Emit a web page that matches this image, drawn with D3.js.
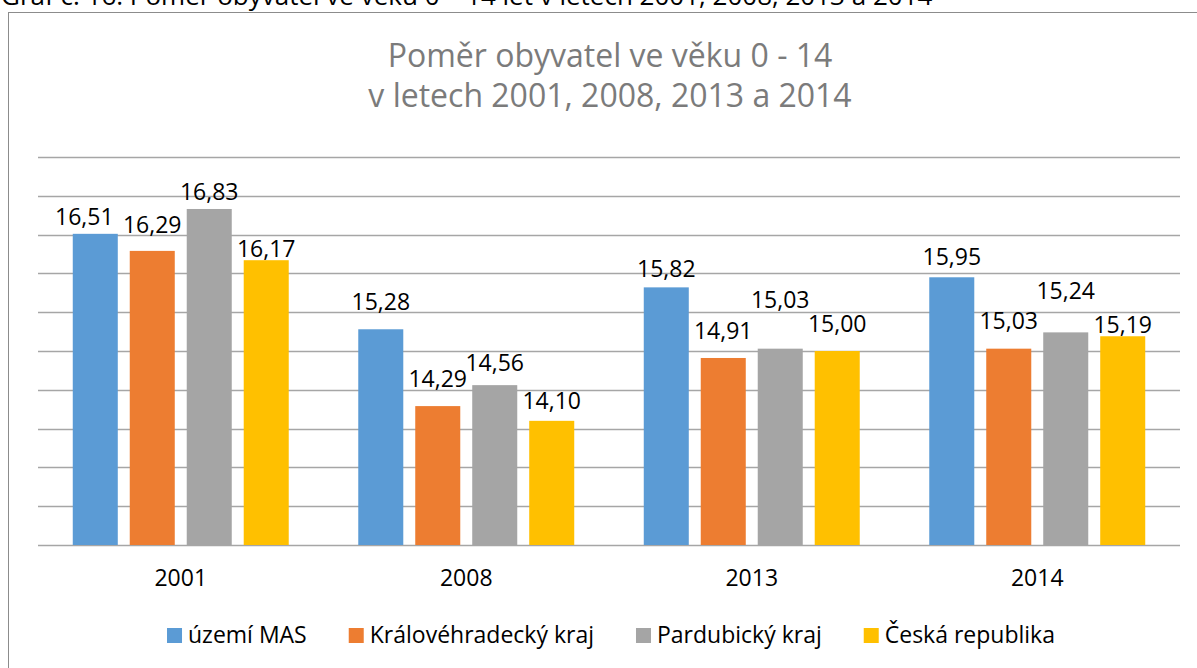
<!DOCTYPE html>
<html>

<head>
    <meta charset="utf-8" />
    <script src="https://d3js.org/d3.v7.min.js"></script>
    <style>
        body {
            margin: 0;
            background: #fff;
        }

        text {
            font-family: "Open Sans", "Liberation Sans", sans-serif;
        }
    </style>
</head>

<body>
    <script>
        // data
        const years = ['2001', '2008', '2013', '2014'];
        const series = ['území MAS', 'Královéhradecký kraj', 'Pardubický kraj', 'Česká republika'];
        const masValues = [16.51, 15.28, 15.82, 15.95];
        const khkValues = [16.29, 14.29, 14.91, 15.03];
        const pardValues = [16.83, 14.56, 15.03, 15.24];
        const czValues = [16.17, 14.10, 15.00, 15.19];
        const titleLines = ['Poměr obyvatel ve věku 0 - 14', 'v letech 2001, 2008, 2013 a 2014'];
        const caption = 'Graf č. 16: Poměr obyvatel ve věku 0 – 14 let v letech 2001, 2008, 2013 a 2014';

        const colors = ['#5b9bd5', '#ed7d31', '#a5a5a5', '#ffc000'];

        // label placement as Excel left it (gap above bar top, horizontal shift)
        const labelGaps = [
            [9, 18, 9, 3],
            [19, 19, 14, 12],
            [10, 19, 41, 19],
            [12, 20, 33, 3]
        ];
        const labelShift = [
            [-11, 0, 0, 0],
            [0, 0, 0, 0],
            [0, 0, 0, 0],
            [0, 0, 0, 0]
        ];

        const allValues = [masValues, khkValues, pardValues, czValues];
        const data = [];
        years.forEach((y, i) => {
            series.forEach((s, j) => {
                data.push({ year: y, series: s, value: allValues[j][i], yi: i, si: j });
            });
        });

        const W = 1197, H = 668;
        const plot = { left: 38, right: 1180, top: 157, bottom: 545 };

        const svg = d3.select('body')
            .append('svg')
            .attr('width', W)
            .attr('height', H);

        // caption, cut by the top edge as in the source
        svg.append('text')
            .attr('x', 1)
            .attr('y', 5)
            .style('font-size', '26px')
            .style('fill', '#000')
            .text(caption);

        // chart frame
        svg.append('rect')
            .attr('x', 8.5)
            .attr('y', 12.5)
            .attr('width', W + 20)
            .attr('height', H + 20)
            .style('fill', 'none')
            .style('stroke', '#8c8c8c')
            .style('stroke-width', 1);

        // title
        svg.selectAll('.title')
            .data(titleLines)
            .enter()
            .append('text')
            .attr('class', 'title')
            .attr('x', 610)
            .attr('y', (d, i) => 67 + i * 40)
            .style('text-anchor', 'middle')
            .style('font-size', '32px')
            .style('fill', '#7b7b7b')
            .text(d => d);

        const x0 = d3.scaleBand().domain(years).range([plot.left, plot.right]);
        const x1 = d3.scaleBand().domain(series).range([0, x0.bandwidth()])
            .paddingInner(0.21)
            .paddingOuter(0.61);
        const yScale = d3.scaleLinear().domain([12.5, 17.5]).range([plot.bottom, plot.top]);

        // gridlines
        svg.append('g')
            .selectAll('line')
            .data(yScale.ticks(10))
            .enter()
            .append('line')
            .attr('x1', plot.left)
            .attr('x2', plot.right)
            .attr('y1', d => Math.round(yScale(d)) + 0.5)
            .attr('y2', d => Math.round(yScale(d)) + 0.5)
            .style('stroke', '#a6a6a6')
            .style('stroke-width', 1.5);

        // bars
        svg.append('g')
            .selectAll('rect')
            .data(data)
            .enter()
            .append('rect')
            .attr('x', d => x0(d.year) + x1(d.series))
            .attr('y', d => yScale(d.value))
            .attr('width', x1.bandwidth())
            .attr('height', d => yScale(12.5) - yScale(d.value))
            .style('fill', d => colors[d.si]);

        // value labels
        svg.append('g')
            .selectAll('text')
            .data(data)
            .enter()
            .append('text')
            .attr('x', d => x0(d.year) + x1(d.series) + x1.bandwidth() / 2 + labelShift[d.yi][d.si])
            .attr('y', d => yScale(d.value) - labelGaps[d.yi][d.si])
            .style('text-anchor', 'middle')
            .style('font-size', '23px')
            .style('fill', '#000')
            .text(d => d3.format('.2f')(d.value).replace('.', ','));

        // x axis
        const xAxis = svg.append('g')
            .attr('transform', `translate(0, ${plot.bottom})`)
            .call(d3.axisBottom(x0).tickSize(0).tickPadding(25));
        xAxis.select('.domain').remove();
        xAxis.selectAll('text')
            .style('font-family', '"Open Sans", sans-serif')
            .style('font-size', '23px')
            .style('fill', '#000');

        // legend
        const legend = svg.append('g');
        const items = legend.selectAll('g')
            .data(series)
            .enter()
            .append('g');
        items.append('rect')
            .attr('width', 15)
            .attr('height', 15)
            .attr('y', -15)
            .style('fill', (d, i) => colors[i]);
        items.append('text')
            .attr('x', 21)
            .attr('y', 0)
            .style('font-size', '23px')
            .style('fill', '#000')
            .text(d => d);

        let cursor = 0;
        items.each(function () {
            const g = d3.select(this);
            const w = 21 + g.select('text').node().getComputedTextLength();
            g.attr('transform', `translate(${cursor}, 0)`);
            cursor += w + 42;
        });
        const legendWidth = cursor - 42;
        legend.attr('transform', `translate(${611 - legendWidth / 2}, 643)`);
    </script>
</body>

</html>
